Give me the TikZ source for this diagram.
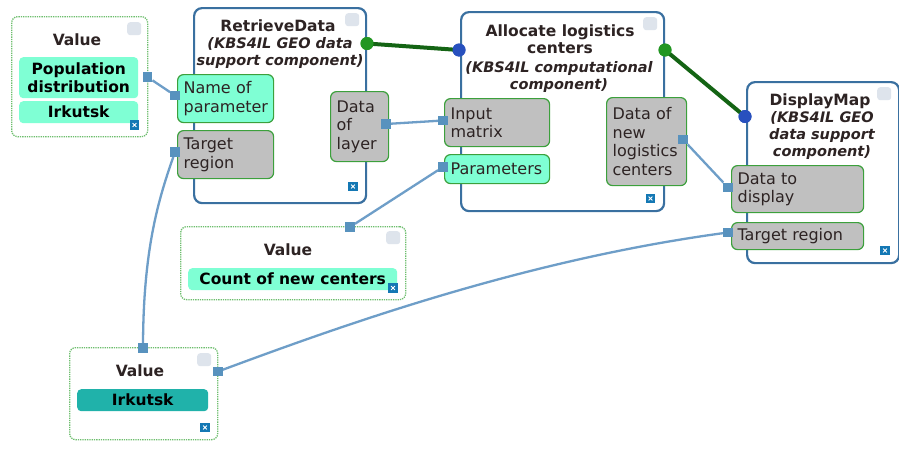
\documentclass[tikz,border=0pt]{standalone}
\usepackage{fontspec}
\setmainfont{DejaVu Sans}
\definecolor{compblue}{RGB}{58,112,160}
\definecolor{portborder}{RGB}{60,160,60}
\definecolor{portgray}{RGB}{192,192,192}
\definecolor{mint}{RGB}{127,255,212}
\definecolor{tealrow}{RGB}{32,178,170}
\definecolor{dotgreen}{RGB}{110,190,110}
\definecolor{wireblue}{RGB}{110,158,200}
\definecolor{sqblue}{RGB}{88,146,190}
\definecolor{darkgreen}{RGB}{20,100,20}
\definecolor{greendot}{RGB}{34,150,34}
\definecolor{bluedot}{RGB}{40,80,190}
\definecolor{cornergray}{RGB}{222,228,236}
\definecolor{iconblue}{RGB}{20,120,180}
\definecolor{textdark}{RGB}{45,35,35}
\begin{document}
\begin{tikzpicture}[x=1pt,y=-1pt,
  comp/.style={draw=compblue,line width=2.2pt,rounded corners=8pt,fill=white,anchor=north west,inner sep=0pt},
  valbox/.style={draw=dotgreen,densely dotted,line width=1.3pt,rounded corners=6pt,fill=white,anchor=north west,inner sep=0pt},
  port/.style={draw=portborder,line width=1.2pt,rounded corners=6pt,anchor=north west,inner xsep=6pt,inner ysep=0pt,align=left,font=\fontsize{16}{18.5}\selectfont,text=textdark},
  row/.style={rounded corners=4pt,anchor=north west,inner sep=0pt,align=center,font=\bfseries\fontsize{15.5}{18}\selectfont,text=black},
  ttl/.style={font=\bfseries\fontsize{15.5}{17.5}\selectfont,align=center,text=textdark,inner sep=0pt},
  sub/.style={font=\bfseries\itshape\fontsize{14.5}{17}\selectfont,align=center,text=textdark,inner sep=0pt},
  cornerbox/.style={fill=cornergray,rounded corners=3pt,minimum width=14pt,minimum height=13pt,inner sep=0pt,anchor=north west},
  xicon/.style={fill=iconblue,minimum size=9.5pt,inner sep=0pt,
    path picture={\draw[white,line width=0.8pt]
      ([shift={(2.8pt,2.8pt)}]path picture bounding box.south west) -- ([shift={(-2.8pt,-2.8pt)}]path picture bounding box.north east)
      ([shift={(2.8pt,-2.8pt)}]path picture bounding box.north west) -- ([shift={(-2.8pt,2.8pt)}]path picture bounding box.south east);}},
  sq/.style={fill=sqblue,minimum size=9.5pt,inner sep=0pt},
  gdot/.style={circle,fill=greendot,minimum size=13pt,inner sep=0pt},
  bdot/.style={circle,fill=bluedot,minimum size=13pt,inner sep=0pt},
  wire/.style={draw=wireblue,line width=2.3pt},
  dwire/.style={draw=darkgreen,line width=4pt}
]
\useasboundingbox (0,0) rectangle (899,450);
\fill[white] (0,0) rectangle (899,450);

% ---------- Value boxes ----------
\node[valbox,minimum width=136pt,minimum height=120pt] (v1) at (11,16) {};
\node[cornerbox] (v1c) at (127,22) {};
\node[ttl] (v1t) at (77,40) {Value};
\node[row,fill=mint,minimum width=119pt,minimum height=41pt] (v1r1) at (19,57) {Population\\distribution};
\node[row,fill=mint,minimum width=119pt,minimum height=22pt] (v1r2) at (19,101) {Irkutsk};
\node[xicon] (v1x) at (134.5,125) {};

\node[valbox,minimum width=225pt,minimum height=73pt] (v2) at (180,226) {};
\node[cornerbox] (v2c) at (386,231) {};
\node[ttl] (v2t) at (288,250) {Value};
\node[row,fill=mint,minimum width=209pt,minimum height=22pt] (v2r1) at (188,268) {Count of new centers};
\node[xicon] (v2x) at (393,288) {};

\node[valbox,minimum width=148pt,minimum height=92pt] (v3) at (69,347) {};
\node[cornerbox] (v3c) at (197,353) {};
\node[ttl] (v3t) at (140,371) {Value};
\node[row,fill=tealrow,minimum width=131pt,minimum height=22pt] (v3r1) at (77,389) {Irkutsk};
\node[xicon] (v3x) at (205,427.5) {};

% ---------- Components ----------
\node[comp,minimum width=172pt,minimum height=195pt] (rd) at (193,7) {};
\node[cornerbox] (rdc) at (345,13) {};
\node[ttl] (rdt) at (278,26) {RetrieveData};
\node[sub] (rds) at (280,53) {(KBS4IL GEO data\\support component)};
\node[xicon] (rdx) at (353,186.5) {};

\node[comp,minimum width=203pt,minimum height=199pt] (al) at (460,11) {};
\node[cornerbox] (alc) at (643,17) {};
\node[ttl] (alt) at (560,39) {Allocate logistics\\centers};
\node[sub] (als) at (559,77) {(KBS4IL computational\\component)};
\node[xicon] (alx) at (650.5,198.5) {};

\node[comp,minimum width=152pt,minimum height=181pt] (dm) at (746,81) {};
\node[cornerbox] (dmc) at (877,87) {};
\node[ttl] (dmt) at (820,101) {DisplayMap};
\node[sub] (dms) at (822,135.5) {(KBS4IL GEO\\data support\\component)};
\node[xicon] (dmx) at (885,250.5) {};

% ---------- Ports ----------
\node[port,fill=mint,minimum width=96pt,minimum height=48pt,text width=84pt] (np) at (177,74) {Name of\\parameter};
\node[port,fill=portgray,minimum width=96pt,minimum height=48pt,text width=84pt] (tr) at (177,130) {Target\\region};
\node[port,fill=portgray,minimum width=58pt,minimum height=70pt,text width=46pt] (dl) at (330,91) {Data\\of\\layer};
\node[port,fill=portgray,minimum width=105pt,minimum height=48pt,text width=93pt] (im) at (444,98) {Input\\matrix};
\node[port,fill=mint,minimum width=105pt,minimum height=29pt,text width=93pt] (pa) at (444,154) {Parameters};
\node[port,fill=portgray,minimum width=80pt,minimum height=88pt,text width=68pt] (dn) at (606,97) {Data of\\new\\logistics\\centers};
\node[port,fill=portgray,minimum width=132pt,minimum height=47pt,text width=120pt] (dd) at (731,165) {Data to\\display};
\node[port,fill=portgray,minimum width=132pt,minimum height=27pt,text width=120pt] (tg) at (731,222) {Target region};

% ---------- Connector end squares ----------
\node[sq] (s1a) at (147.5,77) {};
\node[sq] (s1b) at (175,95.5) {};
\node[sq] (s2a) at (175,152) {};
\node[sq] (s2b) at (143,348) {};
\node[sq] (s3a) at (386,124) {};
\node[sq] (s3b) at (443,120.5) {};
\node[sq] (s4a) at (443,167) {};
\node[sq] (s4b) at (350,227) {};
\node[sq] (s5a) at (683,139.5) {};
\node[sq] (s5b) at (728,187.5) {};
\node[sq] (s6a) at (218,371.5) {};
\node[sq] (s6b) at (728,232.5) {};

% ---------- Connectors ----------
\draw[wire] (s1a) -- (s1b);
\draw[wire] (s2a.center) .. controls (160,195) and (143,245) .. (s2b.center);
\draw[wire] (s3a) -- (s3b);
\draw[wire] (s4a) -- (s4b);
\draw[wire] (s5a) -- (s5b);
\draw[wire] (s6a.center) .. controls (330,330) and (520,260) .. (s6b.center);
\foreach \s in {s2a,s2b,s6a,s6b} \node[sq] at (\s) {};

% ---------- Component links ----------
\node[gdot] (g1) at (367,43.5) {};
\node[bdot] (b1) at (459,50) {};
\node[gdot] (g2) at (665,50) {};
\node[bdot] (b2) at (745,116.5) {};
\draw[dwire] (g1.center) -- (b1.center);
\draw[dwire] (g2.center) -- (b2.center);
\node[gdot] at (g1) {};
\node[bdot] at (b1) {};
\node[gdot] at (g2) {};
\node[bdot] at (b2) {};
\end{tikzpicture}
\end{document}
